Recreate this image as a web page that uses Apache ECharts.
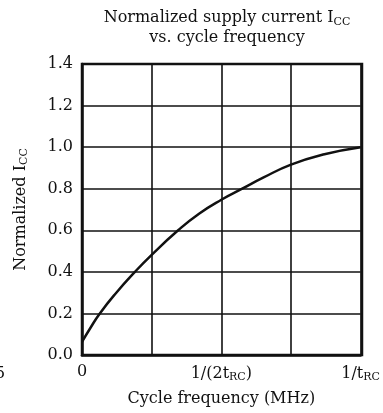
<!DOCTYPE html>
<html>
<head>
<meta charset="utf-8">
<script src="https://cdn.jsdelivr.net/npm/echarts@6/dist/echarts.min.js"></script>
<style>
  html, body { margin: 0; padding: 0; background: #fff; }
  #chart { width: 383px; height: 413px; }
</style>
</head>
<body>
<div id="chart"></div>
<script>
// Cycle frequency as a fraction of 1/tRC, and the normalized supply current there
const freqFraction = [0, 0.03, 0.064, 0.12, 0.19, 0.25, 0.345, 0.42, 0.5, 0.575, 0.65, 0.75, 0.87, 1.0];
const normIcc      = [0.063, 0.13, 0.2, 0.295, 0.4, 0.482, 0.6, 0.68, 0.747, 0.8, 0.853, 0.916, 0.966, 1.0];

// Labelled positions on the frequency axis
const xTickValues = [0, 0.5, 1];
const xTickLabels = ['0', '1/(2t{s|RC})', '1/t{s|RC}'];

const FONT = 'DejaVu Serif';
const INK = '#111';

const chart = echarts.init(document.getElementById('chart'), null, { renderer: 'canvas' });

const subStyle = { fontFamily: FONT, fontSize: 11, color: INK, padding: [8, 0, 0, 0] };

chart.setOption({
  animation: false,
  backgroundColor: '#fff',
  title: {
    text: 'Normalized supply current I{s|CC}\nvs. cycle frequency',
    left: 222,
    textAlign: 'center',
    top: 3,
    textStyle: {
      fontFamily: FONT, fontSize: 16, fontWeight: 'normal', color: INK, lineHeight: 20,
      rich: { s: subStyle }
    }
  },
  grid: { left: 82, right: 21, top: 64, bottom: 58 },
  xAxis: {
    type: 'value',
    min: 0, max: 1, interval: 0.25,
    name: 'Cycle frequency (MHz)',
    nameLocation: 'middle',
    nameGap: 36,
    nameTextStyle: { fontFamily: FONT, fontSize: 16, color: INK },
    axisLine: { show: true, lineStyle: { color: INK, width: 2.5 } },
    axisTick: { show: false },
    splitLine: { show: true, lineStyle: { color: INK, width: 1.6 } },
    axisLabel: {
      margin: 9,
      fontFamily: FONT, fontSize: 16, color: INK,
      showMaxLabel: true, showMinLabel: true,
      rich: { s: subStyle },
      formatter: function (v) {
        const i = xTickValues.findIndex(t => Math.abs(t - v) < 1e-9);
        return i >= 0 ? xTickLabels[i] : '';
      }
    }
  },
  yAxis: {
    type: 'value',
    min: 0, max: 1.4, interval: 0.2,
    name: 'Normalized I{s|CC}',
    nameLocation: 'middle',
    nameGap: 52,
    nameTextStyle: { fontFamily: FONT, fontSize: 16, color: INK, rich: { s: subStyle } },
    axisLine: { show: true, lineStyle: { color: INK, width: 2.5 } },
    axisTick: { show: false },
    splitLine: { show: true, lineStyle: { color: INK, width: 1.6 } },
    axisLabel: {
      margin: 9,
      fontFamily: FONT, fontSize: 16, color: INK,
      formatter: v => v.toFixed(1)
    }
  },
  graphic: [
    {
      type: 'rect',
      shape: { x: 82, y: 64, width: 280, height: 291 },
      style: { fill: 'none', stroke: INK, lineWidth: 2.5 },
      silent: true, z: 10
    },
    {
      type: 'text',
      left: -5, top: 366,
      style: { text: '5', font: '16px "DejaVu Serif"', fill: INK }
    }
  ],
  series: [{
    type: 'line',
    data: freqFraction.map((f, i) => [f, normIcc[i]]),
    smooth: 0.5,
    showSymbol: false,
    lineStyle: { color: INK, width: 2.5 },
    z: 5
  }]
});
</script>
</body>
</html>
